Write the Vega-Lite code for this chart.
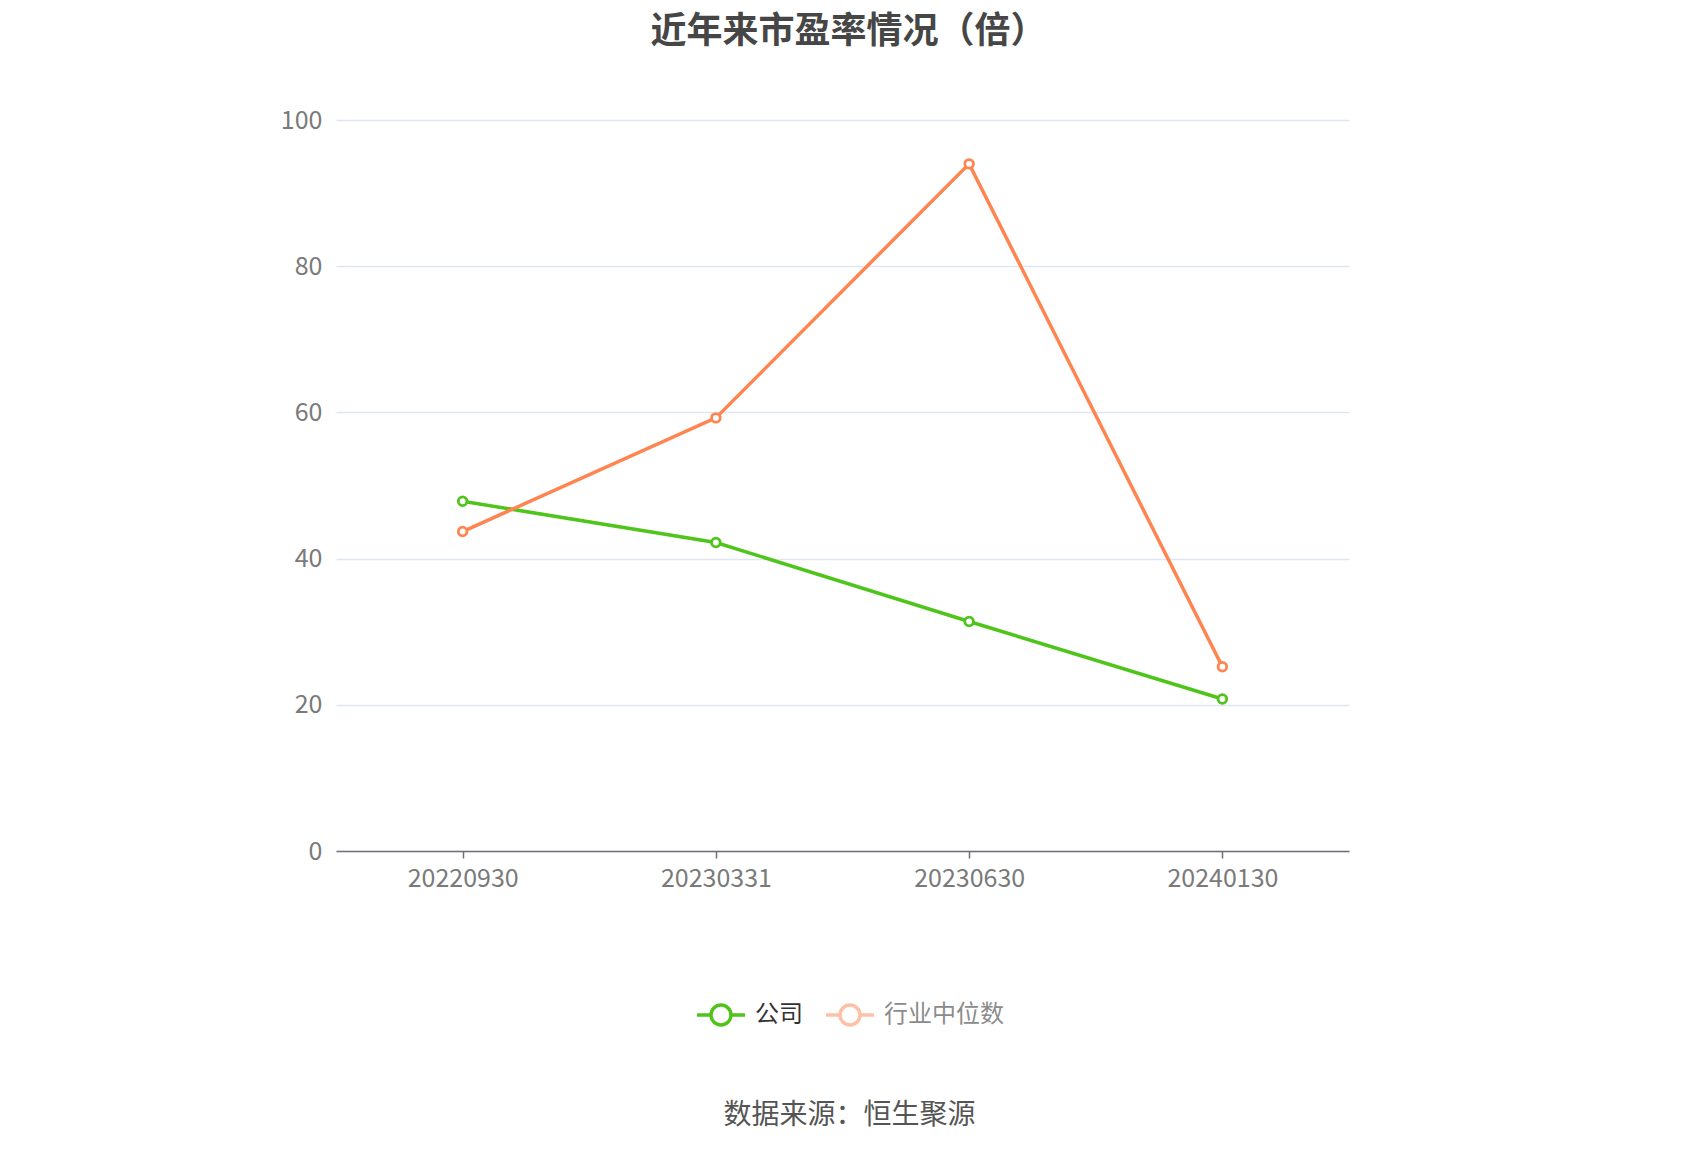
{
  "$schema": "https://vega.github.io/schema/vega-lite/v6.json",
  "width": 1013,
  "height": 731,
  "autosize": {"type": "none"},
  "padding": {"left": 336, "top": 120, "right": 351, "bottom": 299},
  "background": "white",
  "config": {"font": "Noto Sans CJK SC", "view": {"stroke": null}},
  "title": {
    "text": "近年来市盈率情况（倍）",
    "fontSize": 36,
    "fontWeight": "bold",
    "color": "#464646",
    "font": "Noto Sans CJK SC",
    "anchor": "middle",
    "offset": 57,
    "dx": 6
  },
  "data": {
    "values": [
      {"date": "20220930", "series": "公司", "value": 47.85},
      {"date": "20230331", "series": "公司", "value": 42.2},
      {"date": "20230630", "series": "公司", "value": 31.4},
      {"date": "20240130", "series": "公司", "value": 20.8},
      {"date": "20220930", "series": "行业中位数", "value": 43.7},
      {"date": "20230331", "series": "行业中位数", "value": 59.25},
      {"date": "20230630", "series": "行业中位数", "value": 94.0},
      {"date": "20240130", "series": "行业中位数", "value": 25.2}
    ]
  },
  "encoding": {
    "x": {
      "field": "date",
      "type": "ordinal",
      "scale": {"type": "point", "padding": 0.5},
      "axis": {
        "title": "数据来源：恒生聚源",
        "titleFontSize": 28,
        "titleFontWeight": "normal",
        "titleColor": "#555555",
        "titlePadding": 210,
        "titleX": 513,
        "labelAngle": 0,
        "labelFontSize": 25,
        "labelColor": "#7a7a7a",
        "labelPadding": 8,
        "domainColor": "#6e7079",
        "domainWidth": 1.5,
        "tickColor": "#6e7079",
        "tickWidth": 1.5,
        "tickSize": 7,
        "grid": false
      }
    },
    "y": {
      "field": "value",
      "type": "quantitative",
      "scale": {"domain": [0, 100], "nice": false},
      "axis": {
        "title": null,
        "values": [0, 20, 40, 60, 80, 100],
        "domain": false,
        "ticks": false,
        "labelFontSize": 25,
        "labelColor": "#7a7a7a",
        "labelPadding": 14,
        "gridColor": "#e0e6f1",
        "gridWidth": 1.5
      }
    },
    "color": {
      "field": "series",
      "type": "nominal",
      "scale": {"domain": ["公司", "行业中位数"], "range": ["#4fc41b", "#ff8550"]},
      "legend": {
        "title": null,
        "orient": "none",
        "direction": "horizontal",
        "legendX": 373,
        "legendY": 883,
        "padding": 0,
        "symbolType": "M-2.4,0 L-1,0 M1,0 L2.4,0 M-1,0 A1,1 0 1,1 1,0 A1,1 0 1,1 -1,0 Z",
        "symbolSize": 400,
        "symbolStrokeWidth": 3.5,
        "symbolFillColor": "white",
        "labelFontSize": 24,
        "labelOffset": 22,
        "columnPadding": 16,
        "encode": {
          "labels": {"update": {"fill": {"signal": "datum.value === '公司' ? '#333333' : '#8c8c8c'"}}},
          "symbols": {"update": {"opacity": {"signal": "datum.value === '公司' ? 1 : 0.5"}}}
        }
      }
    }
  },
  "layer": [
    {"mark": {"type": "line", "strokeWidth": 3.5}},
    {"mark": {"type": "point", "shape": "circle", "filled": false, "fill": "white", "fillOpacity": 1, "opacity": 1, "size": 75, "strokeWidth": 2.8}}
  ]
}
